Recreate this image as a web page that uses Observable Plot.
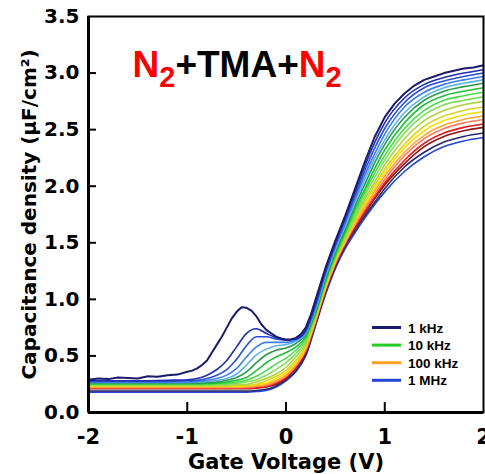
<!DOCTYPE html>
<html><head><meta charset="utf-8">
<script src="https://cdn.jsdelivr.net/npm/d3@7"></script>
<script src="https://cdn.jsdelivr.net/npm/@observablehq/plot@0.6"></script>
<style>
html,body{margin:0;padding:0;background:#fff;}
#chart{position:relative;width:485px;height:474px;}
</style></head><body><div id="chart"></div>
<script>
// ---- series (frequencies from 1 kHz to 1 MHz) ----
const seriesNames = ["f01","f02","f03","f04","f05","f06","f07","f08","f09","f10","f11","f12","f13","f14","f15","f16","f17","f18"];
const seriesColors = ["#1b1b6b","#2030b0","#2a4fd6","#3c7fe8","#5ab3ee","#2b9a4f","#20c03c","#48dd48","#80e05c","#aed43c","#d8d428","#ffdc00","#ffa535","#ff7a5a","#e61c1c","#951414","#2a2a6a","#2446d6"];

// 1 kHz curve (own voltage grid, noisy)
const v1kHz = [-2,-1.9,-1.8,-1.7,-1.6,-1.5,-1.4,-1.3,-1.2,-1.1,-1.0,-0.95,-0.9,-0.85,-0.8,-0.75,-0.7,-0.65,-0.6,-0.55,-0.5,-0.45,-0.4,-0.35,-0.3,-0.25,-0.2,-0.15,-0.1,-0.05,0,0.05,0.1,0.15,0.2,0.25,0.3,0.4,0.5,0.6,0.7,0.8,0.9,1.0,1.1,1.2,1.3,1.4,1.5,1.6,1.7,1.8,1.9,2.0];
const c1kHz = [0.29,0.30,0.295,0.31,0.305,0.30,0.32,0.315,0.33,0.335,0.36,0.37,0.39,0.42,0.46,0.53,0.60,0.67,0.75,0.83,0.89,0.93,0.925,0.90,0.85,0.78,0.73,0.70,0.67,0.655,0.645,0.645,0.66,0.69,0.75,0.86,1.00,1.28,1.52,1.74,1.98,2.22,2.44,2.61,2.73,2.82,2.89,2.94,2.97,3.00,3.02,3.04,3.05,3.07];

// shared voltage grid for the other curves
const gridV = [-2,-1.6,-1.2,-1.0,-0.9,-0.8,-0.7,-0.6,-0.5,-0.4,-0.3,-0.2,-0.1,0,0.1,0.2,0.3,0.4,0.5,0.6,0.7,0.8,0.9,1.0,1.2,1.4,1.6,1.8,2.0];
const cap02 = [0.28,0.28,0.285,0.29,0.30,0.33,0.38,0.46,0.58,0.70,0.74,0.70,0.66,0.64,0.65,0.73,0.97,1.26,1.50,1.72,1.95,2.18,2.39,2.56,2.78,2.90,2.96,3.00,3.03];
const cap03 = [0.275,0.275,0.275,0.28,0.285,0.30,0.33,0.38,0.47,0.59,0.67,0.67,0.65,0.64,0.65,0.72,0.95,1.24,1.48,1.70,1.92,2.14,2.34,2.51,2.74,2.87,2.93,2.97,3.00];
const cap04 = [0.27,0.27,0.27,0.27,0.275,0.285,0.30,0.33,0.39,0.49,0.58,0.62,0.62,0.62,0.64,0.71,0.93,1.22,1.46,1.67,1.89,2.10,2.29,2.46,2.70,2.83,2.90,2.94,2.97];
const cap05 = [0.265,0.265,0.265,0.265,0.27,0.275,0.285,0.30,0.34,0.42,0.51,0.56,0.59,0.60,0.63,0.70,0.91,1.20,1.44,1.65,1.86,2.06,2.25,2.41,2.65,2.79,2.87,2.91,2.94];
const cap06 = [0.26,0.26,0.26,0.26,0.26,0.265,0.27,0.285,0.31,0.36,0.44,0.51,0.55,0.57,0.61,0.69,0.89,1.18,1.42,1.62,1.83,2.02,2.21,2.37,2.61,2.76,2.84,2.88,2.91];
const cap07 = [0.255,0.255,0.255,0.255,0.255,0.26,0.26,0.27,0.285,0.31,0.37,0.44,0.49,0.53,0.58,0.67,0.88,1.16,1.40,1.60,1.80,1.98,2.16,2.32,2.56,2.72,2.80,2.84,2.87];
const cap08 = [0.25,0.25,0.25,0.25,0.25,0.25,0.255,0.26,0.27,0.285,0.32,0.37,0.43,0.48,0.55,0.65,0.87,1.15,1.38,1.58,1.77,1.95,2.12,2.27,2.51,2.67,2.76,2.80,2.83];
const cap09 = [0.245,0.245,0.245,0.245,0.245,0.245,0.245,0.25,0.255,0.27,0.29,0.33,0.38,0.44,0.52,0.63,0.86,1.14,1.37,1.56,1.74,1.92,2.08,2.23,2.47,2.63,2.72,2.76,2.79];
const cap10 = [0.24,0.24,0.24,0.24,0.24,0.24,0.24,0.24,0.245,0.25,0.27,0.30,0.34,0.40,0.49,0.61,0.85,1.13,1.36,1.54,1.72,1.89,2.04,2.19,2.42,2.58,2.67,2.72,2.75];
const cap11 = [0.235,0.235,0.235,0.235,0.235,0.235,0.235,0.235,0.24,0.24,0.25,0.28,0.32,0.37,0.46,0.59,0.84,1.12,1.35,1.53,1.70,1.86,2.01,2.15,2.37,2.53,2.62,2.67,2.70];
const cap12 = [0.23,0.23,0.23,0.23,0.23,0.23,0.23,0.23,0.23,0.235,0.245,0.26,0.30,0.35,0.44,0.58,0.83,1.11,1.34,1.52,1.69,1.84,1.98,2.12,2.34,2.49,2.58,2.63,2.66];
const cap13 = [0.225,0.225,0.225,0.225,0.225,0.225,0.225,0.225,0.225,0.23,0.235,0.25,0.28,0.33,0.42,0.56,0.82,1.10,1.33,1.51,1.67,1.82,1.96,2.09,2.30,2.45,2.54,2.59,2.62];
const cap14 = [0.22,0.22,0.22,0.22,0.22,0.22,0.22,0.22,0.22,0.22,0.23,0.24,0.27,0.32,0.41,0.55,0.81,1.09,1.32,1.50,1.66,1.80,1.93,2.06,2.27,2.42,2.51,2.56,2.59];
const cap15 = [0.215,0.215,0.215,0.215,0.215,0.215,0.215,0.215,0.215,0.215,0.22,0.235,0.26,0.31,0.40,0.54,0.80,1.08,1.31,1.49,1.64,1.78,1.91,2.03,2.23,2.38,2.47,2.52,2.55];
const cap16 = [0.21,0.21,0.21,0.21,0.21,0.21,0.21,0.21,0.21,0.21,0.215,0.225,0.25,0.30,0.39,0.53,0.79,1.07,1.30,1.48,1.63,1.76,1.89,2.01,2.20,2.35,2.44,2.49,2.52];
const cap17 = [0.19,0.19,0.19,0.19,0.19,0.19,0.19,0.19,0.19,0.19,0.195,0.205,0.235,0.29,0.37,0.51,0.78,1.06,1.29,1.47,1.61,1.74,1.86,1.98,2.17,2.30,2.39,2.44,2.47];
const cap18 = [0.18,0.18,0.18,0.18,0.18,0.18,0.18,0.18,0.18,0.18,0.185,0.195,0.225,0.28,0.36,0.50,0.77,1.04,1.27,1.45,1.59,1.72,1.84,1.95,2.13,2.26,2.35,2.40,2.43];

// ---- axes ----
const xTicks = [-2,-1,0,1,2];
const yTicks = [0,0.5,1.0,1.5,2.0,2.5,3.0,3.5];
const xTitle = "Gate Voltage (V)";
const yTitle = "Capacitance density (μF/cm²)";

// ---- legend ----
const legendLabels = ["1 kHz","10 kHz","100 kHz","1 MHz"];
const legendColors = ["#1b1b6b","#28cc28","#ffa020","#2446d6"];

// ---- build tables ----
const others = [cap02,cap03,cap04,cap05,cap06,cap07,cap08,cap09,cap10,cap11,cap12,cap13,cap14,cap15,cap16,cap17,cap18];
const rowsGrid = [];
for (let k = others.length - 1; k >= 0; k--) {
  gridV.forEach((v, i) => rowsGrid.push({s: seriesNames[k + 1], v, c: others[k][i]}));
}
const rows1 = v1kHz.map((v, i) => ({s: seriesNames[0], v, c: c1kHz[i]}));

const W = 485, H = 474, mL = 88, mR = 2, mT = 16, mB = 62;
const frameW = W - mL - mR, frameH = H - mT - mB;
const axisFont = {fontFamily: "DejaVu Sans", fontWeight: "bold", fontSize: 20};

const plot = Plot.plot({
  width: W, height: H,
  marginLeft: mL, marginRight: mR, marginTop: mT, marginBottom: mB,
  style: {background: "#fff", color: "#000", fontFamily: "DejaVu Sans"},
  x: {domain: [-2, 2]},
  y: {domain: [0, 3.5]},
  color: {type: "ordinal", domain: seriesNames, range: seriesColors},
  marks: [
    Plot.line(rowsGrid, {x: "v", y: "c", z: "s", stroke: "s", curve: "monotone-x", strokeWidth: 1.6}),
    Plot.line(rows1, {x: "v", y: "c", z: "s", stroke: "s", curve: "linear", strokeWidth: 2}),
    Plot.axisX(xTicks, {tickSize: 0, tickPadding: 17, tickFormat: d => String(d), ...axisFont,
      label: xTitle, labelAnchor: "center", labelOffset: 56, labelArrow: "none", fontSize: 21}),
    Plot.axisY(yTicks, {tickSize: 0, tickPadding: 9, tickFormat: d => d.toFixed(1), ...axisFont,
      label: yTitle, labelAnchor: "center", labelOffset: 67, labelArrow: "none"}),
    // inward tick marks
    Plot.tickX(xTicks.slice(1, -1), {x: d => d, stroke: "#000", strokeWidth: 2, insetTop: frameH - 10}),
    Plot.tickY(yTicks.slice(1, -1), {y: d => d, stroke: "#000", strokeWidth: 2, insetRight: frameW - 8}),
    Plot.frame({stroke: "#000", strokeWidth: 2}),
    Plot.ruleX([-2], {stroke: "#000", strokeWidth: 3}),
    Plot.ruleY([0], {stroke: "#000", strokeWidth: 3})
  ]
});
document.getElementById("chart").appendChild(plot);

// inner title N2+TMA+N2
const svg = d3.select(plot);
const t = svg.append("text")
  .attr("x", 132.5).attr("y", 77)
  .attr("text-anchor", "start")
  .attr("font-family", "Liberation Sans, Arial, sans-serif")
  .attr("font-weight", "bold").attr("font-size", 37);
t.append("tspan").attr("fill", "#ff0000").text("N");
t.append("tspan").attr("fill", "#ff0000").attr("font-size", 29).attr("dy", 9.5).text("2");
t.append("tspan").attr("fill", "#000").attr("dy", -9.5).text("+TMA+");
t.append("tspan").attr("fill", "#ff0000").text("N");
t.append("tspan").attr("fill", "#ff0000").attr("font-size", 29).attr("dy", 9.5).text("2");

// legend
const lg = svg.append("g").attr("text-anchor", "start");
legendLabels.forEach((lab, i) => {
  const y = 327.5 + i * 17.6;
  lg.append("line").attr("x1", 372).attr("x2", 401).attr("y1", y).attr("y2", y)
    .attr("stroke", legendColors[i]).attr("stroke-width", 3);
  lg.append("text").attr("x", 408).attr("y", y + 5)
    .attr("text-anchor", "start")
    .attr("font-family", "Liberation Sans, Arial, sans-serif").attr("font-weight", "bold")
    .attr("font-size", 13.5).attr("fill", "#000").text(lab);
});
</script></body></html>
